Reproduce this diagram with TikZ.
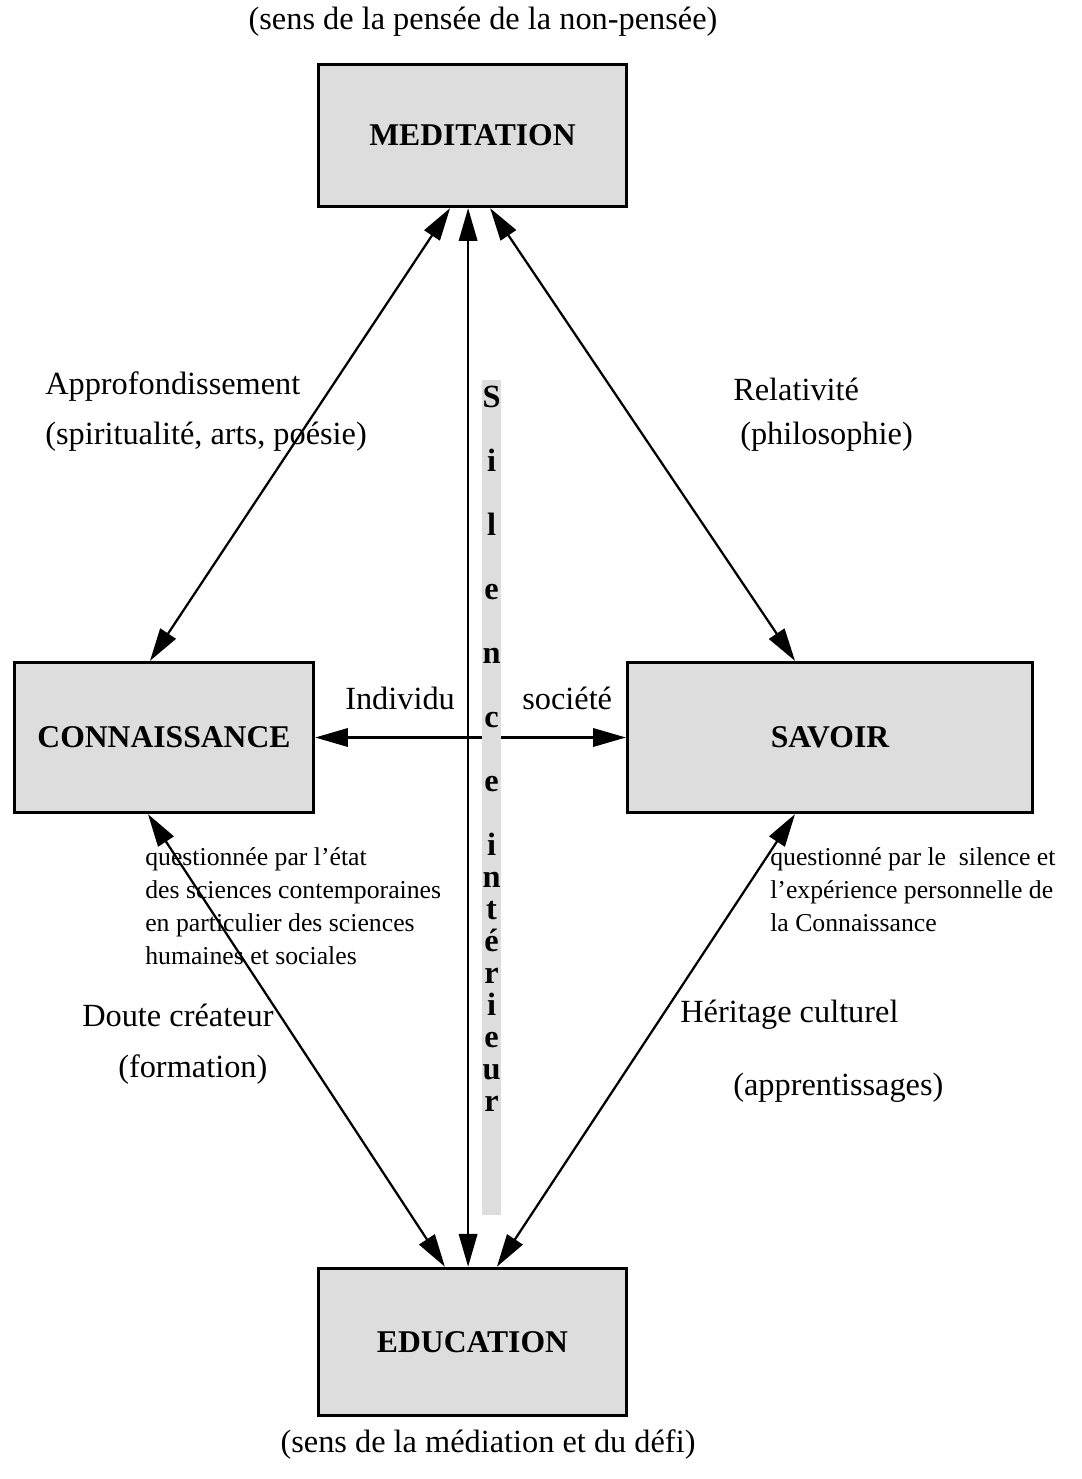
\documentclass[tikz,border=0pt]{standalone}
\usepackage{fontspec}
\setmainfont{Liberation Serif}
\usetikzlibrary{positioning,arrows.meta}
\definecolor{boxgray}{HTML}{DDDDDD}
\tikzset{
	>={Triangle[length=0.82cm, width=0.46cm]}
}

\begin{document}
\begin{tikzpicture}[
x = 0.025cm, y = -0.025cm,
every node/.style = {
	inner sep = 0pt,
	font = \fontsize{23}{28}\selectfont
},
box/.style = {
	draw,
	line width = 2.3pt,
	fill = boxgray,
	font = \fontsize{22.5}{27}\selectfont\bfseries
},
arr/.style = {
	<->,
	line width = 1.6pt
},
small/.style = {
	align = left,
	anchor = north west,
	font = \fontsize{18.3}{23.5}\selectfont
},
letter/.style = {
	anchor = base,
	font = \fontsize{23}{28}\selectfont\bfseries
}
]
\useasboundingbox (0,0) rectangle (1081,1479);

% the four boxes
\node (med) [box, minimum width = 7.7cm, minimum height = 3.55cm] at (472.5,135.5) {MEDITATION};
\node (con) [box, minimum width = 7.475cm, minimum height = 3.75cm] at (164,737.5) {CONNAISSANCE};
\node (sav) [box, minimum width = 10.125cm, minimum height = 3.75cm] at (830,737.5) {SAVOIR};
\node (edu) [box, minimum width = 7.7cm, minimum height = 3.68cm] at (472.5,1342) {EDUCATION};

% texts
\node (senstop) at (483,22) {(sens de la pensée de la non-pensée)};
\node (sensbot) at (488,1445) {(sens de la médiation et du défi)};
\node (appro) [anchor = west] at (45,387) {Approfondissement};
\node (spirit) [anchor = west] at (45,437) {(spiritualité, arts, poésie)};
\node (relat) [anchor = west] at (733,389) {Relativité};
\node (philo) [anchor = west] at (740,437) {(philosophie)};
\node (indiv) [anchor = west] at (345,698) {Individu};
\node (societe) [anchor = west] at (522,698) {société};
\node (questl) [small] at (145,847) {questionnée par l'état\\des sciences contemporaines\\en particulier des sciences\\humaines et sociales};
\node (questr) [small] at (770,847) {questionné par le\ \ silence et\\l'expérience personnelle de\\la Connaissance};
\node (doute) [anchor = west] at (82,1015) {Doute créateur};
\node (forma) [anchor = west] at (118,1070) {(formation)};
\node (herit) [anchor = west] at (680,1015) {Héritage culturel};
\node (appren) [anchor = west] at (733,1088) {(apprentissages)};

% arrows
\draw [arr] ([xshift = -0.56cm]med.south) -- ([xshift = -0.35cm]con.north);
\draw [arr] ([xshift = 0.44cm]med.south) -- ([xshift = -0.875cm]sav.north);
\draw [arr] ([xshift = -0.11cm]med.south) -- ([xshift = -0.11cm]edu.north);
\draw [arr] ([xshift = -0.4cm]con.south) -- ([xshift = -0.69cm]edu.north);
\draw [arr] ([xshift = -0.875cm]sav.south) -- ([xshift = 0.61cm]edu.north);
\draw [arr] (con.east) -- (sav.west);

% silence bar
\node (bar) [fill = boxgray, minimum width = 0.475cm, minimum height = 20.875cm] at (491.5,797.5) {};
\foreach \ch/\yy [count = \k] in {S/407, i/471, l/535, e/599, n/663, c/727, e/791,
	i/855, n/887, t/919, é/951, r/983, i/1015, e/1047, u/1079, r/1111}
	\node (sil\k) [letter] at (491.5,\yy) {\ch};

\end{tikzpicture}
\end{document}
